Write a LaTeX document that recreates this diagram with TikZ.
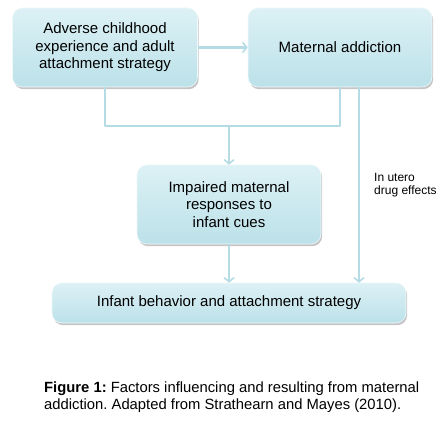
\documentclass[tikz,border=0pt]{standalone}
\usepackage{fontspec}
\setmainfont{Liberation Sans}
\usetikzlibrary{arrows.meta,shadows}
\definecolor{boxtop}{HTML}{DCF1F5}
\definecolor{boxbot}{HTML}{BCE1E9}
\definecolor{linkcol}{HTML}{B5DCE4}
\tikzset{
  faktor/.style={rounded corners=10pt,draw=white!55!boxtop,line width=0.6pt,
    top color=boxtop,bottom color=boxbot,align=center,font=\fontsize{15}{17.5}\selectfont,
    inner sep=0pt,drop shadow={shadow xshift=1.2pt,shadow yshift=-2.2pt,opacity=0.45,fill=gray}},
  link/.style={draw=linkcol,line width=2.6pt},
  pfeil/.style={link,-{Straight Barb[length=4pt,width=10pt,line width=1.6pt]}}
}
\frenchspacing
\begin{document}
\begin{tikzpicture}[x=1pt,y=-1pt,line join=round]
  \useasboundingbox[fill=white](0,0) rectangle (445,422);
  %%% Boxes
  \node[faktor,minimum width=185pt,minimum height=79pt] (kindheit) at (105,47.5)
    {Adverse childhood\\experience and adult\\attachment strategy};
  \node[faktor,minimum width=184pt,minimum height=79pt] (sucht) at (340,47.5)
    {Maternal addiction};
  \node[faktor,minimum width=184pt,minimum height=79pt] (antwort) at (229,204.5)
    {Impaired maternal\\responses to\\infant cues};
  \node[faktor,minimum width=354pt,minimum height=40pt] (saeugling) at (229,303)
    {Infant behavior and attachment strategy};
  %%% Connectors
  \draw[pfeil] (kindheit.east) -- (sucht.west);
  \coordinate (knoten) at (229,126);
  \draw[link] (kindheit.south) |- (knoten) -| (sucht.south);
  \draw[pfeil] (knoten) -- (antwort.north);
  \draw[pfeil] (antwort.south) -- (saeugling.north);
  \coordinate (utero) at ([xshift=19pt]sucht.south);
  \draw[pfeil] (utero) -- (utero |- saeugling.north);
  \node[anchor=west,align=left,inner sep=0pt,font=\fontsize{12}{13.5}\selectfont] (drogen) at (374,185)
    {In utero\\drug effects};
  %%% Caption
  \node[anchor=west,align=left,inner sep=0pt,font=\fontsize{14.8}{16.5}\selectfont] (legende) at (44,397)
    {\textbf{Figure 1:} Factors influencing and resulting from maternal\\addiction. Adapted from Strathearn and Mayes (2010).};
\end{tikzpicture}
\end{document}
